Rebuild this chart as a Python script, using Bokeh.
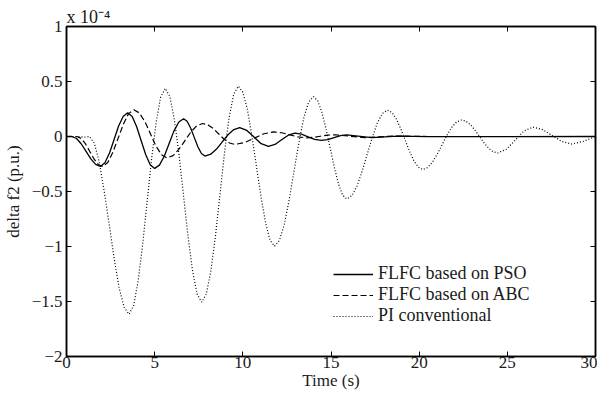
from bokeh.plotting import figure
from bokeh.models import Range1d, LinearAxis, FixedTicker, Legend, LegendItem
from bokeh.embed import file_html
from bokeh.resources import INLINE

# ---- data (delta f2 in units of 1e-4 p.u.) ----
t_pso = [0, 0.3, 0.57, 0.84, 1.11, 1.38, 1.65, 1.92,
         2.18, 2.44, 2.695, 2.95, 3.21, 3.47,
         3.725, 3.98, 4.235, 4.49, 4.745, 5.0,
         5.27, 5.55, 5.82, 6.09, 6.37, 6.64,
         6.84, 7.04, 7.245, 7.45, 7.65, 7.85,
         8.18, 8.51, 8.835, 9.16, 9.49, 9.82,
         10.23, 10.635, 11.04, 11.45,
         11.825, 12.2, 12.575, 12.95,
         13.325, 13.7, 14.075, 14.45,
         14.81, 15.175, 15.54, 15.9,
         17.3, 18.8, 20.5, 30]
v_pso = [0, 0, -0.018, -0.068, -0.136, -0.204, -0.254, -0.272,
         -0.239, -0.150, -0.029, 0.093, 0.182, 0.215,
         0.181, 0.089, -0.038, -0.164, -0.256, -0.29,
         -0.260, -0.177, -0.064, 0.049, 0.132, 0.162,
         0.139, 0.077, -0.008, -0.093, -0.155, -0.178,
         -0.161, -0.114, -0.049, 0.016, 0.063, 0.08,
         0.055, -0.005, -0.065, -0.09,
         -0.072, -0.03, 0.012, 0.03,
         0.021, -0.0025, -0.026, -0.035,
         -0.028, -0.01, 0.008, 0.015,
         -0.01, 0.003, -0.002, 0]

t_abc = [0, 0.6, 0.84, 1.08, 1.32, 1.56, 1.8, 2.04,
         2.34, 2.63, 2.93, 3.23, 3.52, 3.82,
         4.13, 4.45, 4.76, 5.07, 5.39, 5.7,
         6.04, 6.37, 6.71, 7.05, 7.38, 7.72,
         8.03, 8.33, 8.635, 8.94, 9.245, 9.55,
         10.1, 10.65, 11.2, 11.75,
         12.21, 12.675, 13.14, 13.6,
         14.0, 14.4, 14.8, 15.2,
         16.9, 18.6, 20.5, 30]
v_abc = [0, 0, -0.018, -0.068, -0.136, -0.204, -0.254, -0.272,
         -0.237, -0.143, -0.015, 0.114, 0.208, 0.243,
         0.214, 0.134, 0.024, -0.086, -0.166, -0.195,
         -0.174, -0.117, -0.039, 0.040, 0.097, 0.118,
         0.105, 0.071, 0.023, -0.025, -0.059, -0.072,
         -0.055, -0.015, 0.025, 0.042,
         0.034, 0.015, -0.004, -0.012,
         -0.008, 0.002, 0.012, 0.016,
         -0.01, 0.004, 0, 0]

t_pi = [0, 1.1, 1.3, 1.58, 1.86, 2.14, 2.43, 2.71, 2.99, 3.27, 3.55,
        3.81, 4.06, 4.32, 4.575, 4.83, 5.09, 5.34, 5.6,
        5.86, 6.12, 6.38, 6.635, 6.89, 7.15, 7.41, 7.67,
        7.93, 8.19, 8.45, 8.705, 8.96, 9.22, 9.48, 9.74,
        10.0, 10.26, 10.51, 10.77, 11.03, 11.29, 11.54, 11.8,
        12.075, 12.35, 12.625, 12.9, 13.175, 13.45, 13.725, 14.0,
        14.24, 14.475, 14.71, 14.95, 15.19, 15.425, 15.66, 15.9,
        16.19, 16.475, 16.76, 17.05, 17.34, 17.625, 17.91, 18.2,
        18.45, 18.7, 18.95, 19.2, 19.45, 19.7, 19.95, 20.2,
        20.475, 20.75, 21.025, 21.3, 21.575, 21.85, 22.125, 22.4,
        22.66, 22.91, 23.17, 23.425, 23.68, 23.94, 24.19, 24.45,
        24.95, 25.45, 25.95, 26.45,
        27.0, 27.55, 28.1, 28.65,
        29.3, 30]
v_pi = [0, -0.005, 0, -0.061, -0.236, -0.499, -0.808, -1.116, -1.379, -1.554, -1.615,
        -1.537, -1.315, -0.981, -0.589, -0.197, 0.137, 0.359, 0.437,
        0.363, 0.153, -0.164, -0.535, -0.906, -1.223, -1.433, -1.507,
        -1.432, -1.220, -0.900, -0.525, -0.149, 0.171, 0.383, 0.458,
        0.403, 0.246, 0.008, -0.270, -0.547, -0.785, -0.942, -0.997,
        -0.945, -0.799, -0.577, -0.318, -0.058, 0.164, 0.310, 0.362,
        0.327, 0.226, 0.075, -0.103, -0.281, -0.432, -0.533, -0.568,
        -0.537, -0.450, -0.318, -0.164, -0.010, 0.122, 0.209, 0.24,
        0.219, 0.161, 0.073, -0.03, -0.133, -0.221, -0.279, -0.30,
        -0.283, -0.234, -0.161, -0.075, 0.011, 0.084, 0.133, 0.15,
        0.139, 0.106, 0.057, 0.0, -0.057, -0.106, -0.139, -0.15,
        -0.116, -0.0325, 0.051, 0.085,
        0.063, 0.0085, -0.046, -0.068,
        -0.045, 0.0]

x_ticks = [0, 5, 10, 15, 20, 25, 30]
y_ticks = [-2, -1.5, -1, -0.5, 0, 0.5, 1]
y_tick_labels = ["\u22122", "\u22121.5", "\u22121", "\u22120.5", "0", "0.5", "1"]
series_names = ["FLFC based on PSO", "FLFC based on ABC", "PI conventional"]
multiplier_text = "x 10\u207b\u2074"

FONT = "Liberation Serif"
INK = "#1a1a1a"

p = figure(width=597, height=392, output_backend="svg", toolbar_location=None,
           x_range=Range1d(0, 30), y_range=Range1d(-2, 1),
           min_border_left=61, min_border_right=2, min_border_top=26, min_border_bottom=33,
           x_axis_label="Time (s)", y_axis_label="delta f2 (p.u.)",
           title=multiplier_text)
p.title.align = "left"
p.title.offset = 0
p.title.standoff = 0
p.title.text_font = FONT
p.title.text_font_size = "18px"
p.title.text_font_style = "normal"
p.title.text_color = INK

p.xgrid.visible = False
p.ygrid.visible = False
p.outline_line_color = "black"
p.outline_line_width = 1.5
p.background_fill_color = "white"
p.border_fill_color = "white"

p.add_layout(LinearAxis(), "above")
p.add_layout(LinearAxis(), "right")

for ax in p.xaxis:
    ax.ticker = FixedTicker(ticks=x_ticks)
for ax in p.yaxis:
    ax.ticker = FixedTicker(ticks=y_ticks)
    ax.major_label_overrides = {k: s for k, s in zip(y_ticks, y_tick_labels)}

for ax in p.axis:
    ax.axis_line_color = "black"
    ax.axis_line_width = 1.5
    ax.major_tick_in = 5
    ax.major_tick_out = 0
    ax.major_tick_line_color = "black"
    ax.major_tick_line_width = 1
    ax.minor_tick_line_color = None
    ax.major_label_text_font = FONT
    ax.major_label_text_font_size = "17px"
    ax.major_label_text_color = INK
    ax.axis_label_text_font = FONT
    ax.axis_label_text_font_size = "17px"
    ax.axis_label_text_font_style = "normal"
    ax.axis_label_text_color = INK

p.below[0].major_label_standoff = 0
p.below[0].axis_label_standoff = 0
p.left[0].major_label_standoff = 4
p.left[0].axis_label_standoff = 6
for ax in (p.above[0], p.right[0]):
    ax.major_label_text_font_size = "1px"
    ax.major_label_text_color = None
    ax.major_label_standoff = 0

r1 = p.line(t_pso, v_pso, line_color="black", line_width=1.3)
r2 = p.line(t_abc, v_abc, line_color="black", line_width=1.2, line_dash="6 3")
r3 = p.line(t_pi, v_pi, line_color="black", line_width=1.2, line_dash="1 2")

legend = Legend(items=[LegendItem(label=series_names[0], renderers=[r1]),
                       LegendItem(label=series_names[1], renderers=[r2]),
                       LegendItem(label=series_names[2], renderers=[r3])],
                location=(267, 30), border_line_color=None, background_fill_alpha=0,
                label_text_font=FONT, label_text_font_size="18px", label_text_color=INK,
                glyph_width=40, glyph_height=12, label_height=12, spacing=0, padding=2,
                label_standoff=5, margin=0)
p.add_layout(legend, "center")

open("out.html", "w").write(file_html(p, INLINE))
